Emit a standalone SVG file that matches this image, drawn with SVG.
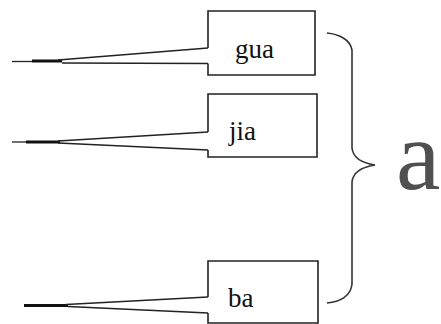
<svg xmlns="http://www.w3.org/2000/svg" width="441" height="324" viewBox="0 0 441 324" font-family="Liberation Serif, Times New Roman, serif">
<style>
.box{fill:none;stroke:#222;stroke-width:1.6}
.ln{fill:none;stroke:#222;stroke-width:1.5}
.tip{fill:none;stroke:#111;stroke-width:3}
.thin{fill:none;stroke:#222;stroke-width:1.3}
.brace{fill:none;stroke:#333;stroke-width:1.6}
</style>
<rect width="441" height="324" fill="#fff"/>
<g id="connectors">
  <g id="wedge-gua">
    <path class="thin" d="M12,61.5 H32"/>
    <path class="tip" d="M32,61 H62"/>
    <path class="ln" d="M58,60 L208,48"/>
    <path class="ln" d="M62,63 L208,63.5"/>
  </g>
  <g id="wedge-jia">
    <path class="thin" d="M12,142 H26"/>
    <path class="tip" d="M26,142 H60"/>
    <path class="ln" d="M58,141 L208,132"/>
    <path class="ln" d="M58,143 L208,150"/>
  </g>
  <g id="wedge-ba">
    <path class="tip" d="M24,305.5 H68"/>
    <path class="ln" d="M66,304.5 L208,297"/>
    <path class="ln" d="M68,306.5 L208,313"/>
  </g>
  <path id="brace" class="brace" d="M327,33 C338,34 350,39 352,50 V148 C353,158 362,163 375,165 C362,167 353,172 352,182 V284 C351,296 340,302 327,303"/>
</g>
<g id="node-gua">
  <path class="box" d="M208,48 V11 H315 V75 H208 V63.5"/>
  <text font-family="Liberation Serif, Times New Roman, serif" font-size="27" fill="#111" x="235" y="58">gua</text>
</g>
<g id="node-jia">
  <path class="box" d="M208,132 V94 H317 V157 H208 V150"/>
  <text font-family="Liberation Serif, Times New Roman, serif" font-size="27" fill="#111" x="229" y="140">jia</text>
</g>
<g id="node-ba">
  <path class="box" d="M208,297 V261 H318 V323 H208 V313"/>
  <text font-family="Liberation Serif, Times New Roman, serif" font-size="27" fill="#111" x="228" y="307">ba</text>
</g>
<g id="label-a">
  <text font-family="Liberation Serif, Times New Roman, serif" font-size="100" fill="#505050" x="396" y="189">a</text>
</g>
</svg>
